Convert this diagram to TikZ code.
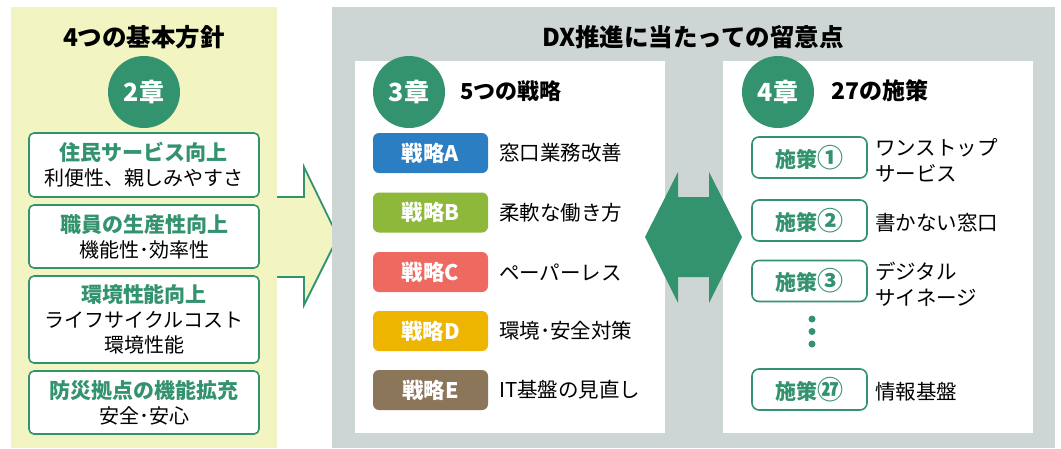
\documentclass[tikz,border=0pt]{standalone}
\usepackage{fontspec}
\setmainfont{Noto Sans CJK JP}
\definecolor{dgreen}{RGB}{52,147,111}
\definecolor{lyellow}{RGB}{242,245,194}
\definecolor{lgray}{RGB}{205,214,213}
\definecolor{sA}{RGB}{42,126,193}
\definecolor{sB}{RGB}{141,184,58}
\definecolor{sC}{RGB}{238,106,97}
\definecolor{sD}{RGB}{237,180,0}
\definecolor{sE}{RGB}{139,118,90}
\newcommand{\circnum}[1]{{\fontsize{26}{24}\selectfont #1}}
\begin{document}
\begin{tikzpicture}[x=1pt,y=-1pt,
  panel/.style={draw=none,inner sep=0pt},
  ttl/.style={font=\fontsize{24.5}{28}\selectfont\bfseries},
  chap/.style={circle,fill=dgreen,minimum size=72pt,inner sep=0pt,text=white,font=\fontsize{25}{30}\selectfont\bfseries},
  policy/.style={draw=dgreen,line width=1.6pt,fill=white,rounded corners=5pt,minimum width=230pt,align=center,inner sep=0pt,font=\fontsize{20}{25}\selectfont},
  strat/.style={rounded corners=6pt,minimum width=115pt,minimum height=40pt,inner sep=0pt,text=white,font=\fontsize{21.5}{24}\selectfont\bfseries},
  lbl/.style={anchor=west,inner sep=0pt,align=left,font=\fontsize{20.5}{26}\selectfont},
  meas/.style={draw=dgreen,line width=1.6pt,fill=white,rounded corners=7pt,minimum width=115pt,minimum height=41pt,inner sep=0pt,text=dgreen,font=\fontsize{21}{24}\selectfont\bfseries},
  dot/.style={circle,fill=dgreen,minimum size=7pt,inner sep=0pt}
]
\useasboundingbox (0,0) rectangle (1061,448);
\fill[white] (0,0) rectangle (1061,448);
% left panel
\node[panel,fill=lyellow,minimum width=266pt,minimum height=441pt] (left) at (144,227.5) {};
\node[ttl] (t1) at (144,37) {4つの基本方針};
\node[chap] (c2) at (144,92) {2章};
\node[policy,minimum height=64pt] (p1) at (144,165) {{\color{dgreen}\fontsize{21}{25}\selectfont\bfseries 住民サービス向上}\\利便性、親しみやすさ};
\node[policy,minimum height=63pt] (p2) at (144,236.5) {{\color{dgreen}\fontsize{21}{25}\selectfont\bfseries 職員の生産性向上}\\機能性･効率性};
\node[policy,minimum height=87pt] (p3) at (144,319.5) {{\color{dgreen}\fontsize{21}{25}\selectfont\bfseries 環境性能向上}\\ライフサイクルコスト\\環境性能};
\node[policy,minimum height=63pt] (p4) at (144,402.5) {{\color{dgreen}\fontsize{21}{25}\selectfont\bfseries 防災拠点の機能拡充}\\安全･安心};
% arrow
\fill[lyellow] (277,197) -- (304,197) -- (304,167) -- (338,237) -- (304,305) -- (304,277) -- (277,277) -- cycle;
\draw[dgreen,line width=1.8pt,line join=miter] (277,197) -- (304,197) -- (304,167) -- (338,237) -- (304,305) -- (304,277) -- (277,277);
% gray panel
\node[panel,fill=lgray,minimum width=723pt,minimum height=441pt] (right) at (693.5,227.5) {};
\node[ttl] (t2) at (693,37) {DX推進に当たっての留意点};
\node[panel,fill=white,minimum width=310pt,minimum height=372pt] (w1) at (510,247) {};
\node[panel,fill=white,minimum width=310pt,minimum height=372pt] (w2) at (878,247) {};
% strategies
\node[chap] (c3) at (409,92) {3章};
\node[lbl,font=\fontsize{22}{26}\selectfont\bfseries] (h3) at (460,91) {5つの戦略};
\node[strat,fill=sA] (sa) at (430.5,153) {戦略A};
\node[strat,fill=sB] (sb) at (430.5,212.5) {戦略B};
\node[strat,fill=sC] (sc) at (430.5,272) {戦略C};
\node[strat,fill=sD] (sd) at (430.5,331) {戦略D};
\node[strat,fill=sE] (se) at (430.5,390) {戦略E};
\node[lbl] (la) at (499,153) {窓口業務改善};
\node[lbl] (lb) at (499,212.5) {柔軟な働き方};
\node[lbl] (lc) at (499,272) {ペーパーレス};
\node[lbl] (ld) at (499,331) {環境･安全対策};
\node[lbl] (le) at (499,390) {IT基盤の見直し};
% double arrow
\fill[dgreen] (645,237) -- (678,172) -- (678,197) -- (709,197) -- (709,172) -- (742,237) -- (709,303) -- (709,277) -- (678,277) -- (678,303) -- cycle;
% measures
\node[chap] (c4) at (778,92) {4章};
\node[lbl,font=\fontsize{23}{26}\selectfont\bfseries] (h4) at (831,91) {27の施策};
\node[meas] (m1) at (809.5,157.5) {施策\circnum{①}};
\node[meas] (m2) at (809.5,220.5) {施策\circnum{②}};
\node[meas] (m3) at (809.5,281) {施策\circnum{③}};
\node[meas] (m27) at (809.5,389.5) {施策\circnum{㉗}};
\node[lbl] (l1) at (875,160) {ワンストップ\\サービス};
\node[lbl] (l2) at (875,223) {書かない窓口};
\node[lbl] (l3) at (875,284.5) {デジタル\\サイネージ};
\node[lbl] (l27) at (875,392) {情報基盤};
\node[dot] (d1) at (812,319) {};
\node[dot] (d2) at (812,331.5) {};
\node[dot] (d3) at (812,344) {};
\end{tikzpicture}
\end{document}
